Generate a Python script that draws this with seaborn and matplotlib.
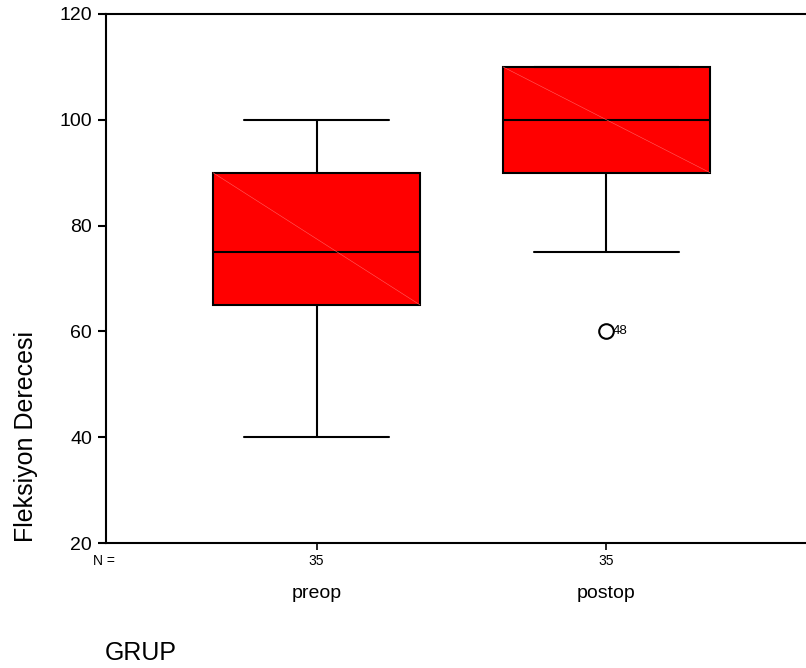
import numpy as np
import pandas as pd
import matplotlib
matplotlib.use("Agg")
import matplotlib.pyplot as plt
import matplotlib.transforms as mtransforms
import seaborn as sns

sns.set_style("white")
plt.rcParams['font.family'] = ['Liberation Sans', 'DejaVu Sans']
plt.rcParams['text.color'] = 'black'
plt.rcParams['xtick.color'] = 'black'
plt.rcParams['ytick.color'] = 'black'

categories = ["preop", "postop"]
preop_values = [40, 45, 50, 50, 55, 60, 60, 60, 65, 65,
                65, 70, 70, 70, 75, 75, 75, 75,
                80, 80, 80, 85, 85, 85, 90,
                90, 90,
                90, 90, 95, 95, 95, 100, 100, 100]
postop_values = [60, 75, 80, 80, 85, 85, 85, 90, 90, 90,
                 90, 95, 95, 95, 100, 100, 100,
                 100,
                 100, 100, 105, 105, 105, 110, 110,
                 110, 110,
                 110, 110, 110, 110, 110, 110, 110, 110]
outlier_labels = {"postop": [(60, "48")]}
y_ticks = [20, 40, 60, 80, 100, 120]

df = pd.DataFrame({
    "GRUP": ["preop"] * len(preop_values) + ["postop"] * len(postop_values),
    "Fleksiyon": preop_values + postop_values,
})
counts = df.groupby("GRUP")["Fleksiyon"].size()

fig = plt.figure(figsize=(8.06, 6.68), dpi=100)
ax = fig.add_axes([106 / 806, 1 - 543 / 668, 1 - 106 / 806, (543 - 14) / 668])

sns.boxplot(data=df, x="GRUP", y="Fleksiyon", order=categories, ax=ax,
            color="#ff0000", saturation=1, width=0.714, whis=1.4,
            linewidth=1.5, linecolor="black", capwidths=0.5,
            flierprops=dict(marker="o", markersize=10.5, markerfacecolor="none",
                            markeredgecolor="black", markeredgewidth=1.5),
            medianprops=dict(color="black", linewidth=1.5))

# faint diagonal artefact lines across boxes
for p in ax.patches:
    ext = p.get_extents().transformed(ax.transData.inverted())
    ax.plot([ext.x0, ext.x1], [ext.y1, ext.y0], color="#ff6060", lw=0.4,
            zorder=p.get_zorder() + 0.1)

ax.set_xlim(-0.726, 1.688)
ax.set_ylim(20, 120)
ax.set_yticks(y_ticks)
ax.tick_params(axis="y", direction="out", length=6, width=1.5, labelsize=14, pad=4, left=True)
ax.tick_params(axis="x", direction="out", length=5, width=1.2, labelsize=14, pad=25, bottom=True)
for s in ["left", "bottom", "top"]:
    ax.spines[s].set_visible(True)
    ax.spines[s].set_linewidth(1.5)
    ax.spines[s].set_color("black")
ax.spines["right"].set_visible(False)
ax.set_xlabel("")
ax.set_ylabel("")

trans = mtransforms.blended_transform_factory(ax.transData, ax.transAxes)
for i, c in enumerate(categories):
    ax.text(i, -0.034, str(counts[c]), transform=trans, ha="center", va="center", fontsize=10)
ax.text(-0.771, -0.034, "N =", transform=trans, ha="left", va="center", fontsize=10)

for i, c in enumerate(categories):
    for val, lab in outlier_labels.get(c, []):
        ax.annotate(lab, (i, val), xytext=(4.5, 0), textcoords="offset points",
                    ha="left", va="center", fontsize=9.5)

fig.text(26 / 806, 1 - 436 / 668, "Fleksiyon Derecesi", rotation=90,
         ha="center", va="center", fontsize=18)
fig.text(105 / 806, 1 - 653 / 668, "GRUP", ha="left", va="center", fontsize=18)

fig.savefig("out.png", dpi=100)
